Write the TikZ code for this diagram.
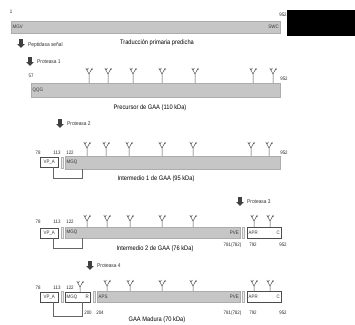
\documentclass[tikz,border=0pt]{standalone}
\usepackage{fontspec}
\setmainfont[FakeStretch=0.88]{Liberation Sans}
\usetikzlibrary{positioning}
\tikzset{
  seqbar/.style={
    rectangle, inner sep=0pt, anchor=north west,
    draw=gray!65, fill=gray!45
  },
  domainbox/.style={
    rectangle, inner sep=0pt, anchor=north west,
    draw=gray!60!black, fill=white
  },
  cutmark/.style={
    rectangle, inner sep=0pt, anchor=north west,
    minimum width=2pt, minimum height=11pt,
    draw=gray!60, fill=gray!15
  },
  seqtext/.style={font=\fontsize{5}{5}\selectfont, inner sep=1.5pt, text=black!80},
  numtext/.style={font=\fontsize{5}{5}\selectfont, inner sep=0pt, text=black!85},
  titletext/.style={font=\fontsize{6.5}{6.5}\selectfont, inner sep=0pt},
  enztext/.style={font=\fontsize{5.5}{5.5}\selectfont, inner sep=0pt, anchor=west, text=black!80},
  glycan/.style={draw=black!70, line width=0.5pt},
  ssbond/.style={draw=black!60, line width=0.4pt},
  protarrow/.pic={
    \fill[black!75] (-1.8,-5) -- (1.8,-5) -- (1.8,0) -- (3.8,0)
      -- (0,4) -- (-3.8,0) -- (-1.8,0) -- cycle;
  },
  glyc/.pic={
    \draw[glycan] (0,0) -- (0,-#1) -- (-3.2,-#1-6) (0,-#1) -- (3.2,-#1-6)
      (-2,-#1-4) -- (-0.6,-#1-6) (2,-#1-4) -- (3.8,-#1-5);
  },
}

\begin{document}
\begin{tikzpicture}[x=1pt, y=-1pt]
  \useasboundingbox (0,0) rectangle (355,324);

  % primary translation
  \node[numtext] (n1) at (11,12) {1};
  \node[numtext] (n952a) at (283,15) {952};
  \node[seqbar, minimum width=269pt, minimum height=12pt] (full) at (11,21) {};
  \node[seqtext, anchor=west] (fullN) at (full.west) {MGV};
  \node[seqtext, anchor=east] (fullC) at (full.east) {SWC};
  \node[fill=black, inner sep=0pt, anchor=north west,
        minimum width=68pt, minimum height=26pt] (mask) at (287,10) {};
  \pic at (21,44) {protarrow};
  \node[enztext] (sp) at (28,45) {Peptidasa señal};
  \node[titletext] (trad) at (157,43) {Traducción primaria predicha};

  % precursor
  \pic at (30,62) {protarrow};
  \node[enztext] (prot1) at (37,62) {Proteasa 1};
  \node[numtext] (n57) at (31,76) {57};
  \node[numtext] (n952b) at (284,79) {952};
  \node[seqbar, minimum width=249pt, minimum height=14pt] (pre) at (31,83) {};
  \node[seqtext, anchor=west] (preN) at (pre.west) {QQG};
  \foreach \gx in {89,108,133,162,195,253,273}
    \pic at (\gx,0 |- pre.north) {glyc=9};
  \node[titletext] (lpre) at (150,108) {Precursor de GAA (110 kDa)};

  % intermediate 1
  \pic at (60,124) {protarrow};
  \node[enztext] (prot2) at (67,124) {Proteasa 2};
  \node[numtext] at (38,153) {78};
  \node[numtext] at (57,153) {113};
  \node[numtext] at (70,153) {122};
  \node[numtext] at (284,153) {952};
  \node[domainbox, minimum width=18pt, minimum height=10pt] (vpa1) at (40,157) {};
  \node[seqtext] at (vpa1) {VP\_A};
  \node[cutmark] (cut1) at (61,157) {};
  \node[seqbar, minimum width=215pt, minimum height=13pt] (mgq1) at (65,156) {};
  \node[seqtext, anchor=west] at (mgq1.west) {MGQ};
  \foreach \gx in {87,106,129,162,193,251,269}
    \pic at (\gx,0 |- mgq1.north) {glyc=8};
  \draw[ssbond] ([xshift=4pt]vpa1.south) -- ++(0,11) -| (82,0 |- mgq1.south);
  \node[titletext] (lint1) at (156,179) {Intermedio 1 de GAA (95 kDa)};

  % intermediate 2
  \pic at (240,202) {protarrow};
  \node[enztext] (prot3) at (247,202) {Proteasa 3};
  \node[numtext] at (38,222) {78};
  \node[numtext] at (57,222) {113};
  \node[numtext] at (70,222) {122};
  \node[domainbox, minimum width=18pt, minimum height=10pt] (vpa2) at (40,228) {};
  \node[seqtext] at (vpa2) {VP\_A};
  \node[cutmark] (cut2a) at (61,227) {};
  \node[seqbar, minimum width=175pt, minimum height=11pt] (mgq2) at (65,227) {};
  \node[seqtext, anchor=west] at (mgq2.west) {MGQ};
  \node[seqtext, anchor=east] at (mgq2.east) {PVE};
  \node[cutmark] (cut2b) at (242,227) {};
  \node[domainbox, minimum width=34pt, minimum height=11pt] (apr2) at (247,227) {};
  \node[seqtext, anchor=west] at (apr2.west) {APR};
  \node[seqtext, anchor=east] at (apr2.east) {C};
  \node[numtext] at (232.5,245) {781(782)};
  \node[numtext] at (253,245) {792};
  \node[numtext] at (283,245) {952};
  \foreach \gx in {87,107,130,162,193}
    \pic at (\gx,0 |- mgq2.north) {glyc=6};
  \foreach \gx in {254,270}
    \pic at (\gx,0 |- apr2.north) {glyc=6};
  \draw[ssbond] ([xshift=4pt]vpa2.south) -- ++(0,10) -| (82,0 |- mgq2.south);
  \node[titletext] (lint2) at (155,249) {Intermedio 2 de GAA (76 kDa)};

  % mature
  \pic at (90,266) {protarrow};
  \node[enztext] (prot4) at (97,266) {Proteasa 4};
  \node[numtext] at (38,288) {78};
  \node[numtext] at (57,288) {113};
  \node[numtext] at (70,288) {122};
  \node[domainbox, minimum width=18pt, minimum height=10pt] (vpa3) at (40,292) {};
  \node[seqtext] at (vpa3) {VP\_A};
  \node[cutmark] (cut3a) at (61,291) {};
  \node[domainbox, minimum width=25pt, minimum height=10pt] (mgqr) at (65,292) {};
  \node[seqtext, anchor=west] at (mgqr.west) {MGQ};
  \node[seqtext, anchor=east] at (mgqr.east) {R};
  \node[cutmark] (cut3b) at (93,291) {};
  \node[seqbar, minimum width=143pt, minimum height=11pt] (aps) at (97,291) {};
  \node[seqtext, anchor=west] at (aps.west) {APS};
  \node[seqtext, anchor=east] at (aps.east) {PVE};
  \node[cutmark] (cut3c) at (242,291) {};
  \node[domainbox, minimum width=34pt, minimum height=11pt] (apr3) at (247,291) {};
  \node[seqtext, anchor=west] at (apr3.west) {APR};
  \node[seqtext, anchor=east] at (apr3.east) {C};
  \node[numtext] at (88,313) {200};
  \node[numtext] at (100,313) {204};
  \node[numtext] at (232.5,313) {781(782)};
  \node[numtext] at (253,313) {792};
  \node[numtext] at (283,313) {952};
  \pic at (80,0 |- mgqr.north) {glyc=5};
  \foreach \gx in {107,130,162,193}
    \pic at (\gx,0 |- aps.north) {glyc=5};
  \foreach \gx in {254,270}
    \pic at (\gx,0 |- apr3.north) {glyc=5};
  \draw[ssbond] ([xshift=4pt]vpa3.south) -- ++(0,14) -| (82,0 |- mgqr.south);
  \node[titletext] (lmat) at (157,320) {GAA Madura (70 kDa)};
\end{tikzpicture}
\end{document}
